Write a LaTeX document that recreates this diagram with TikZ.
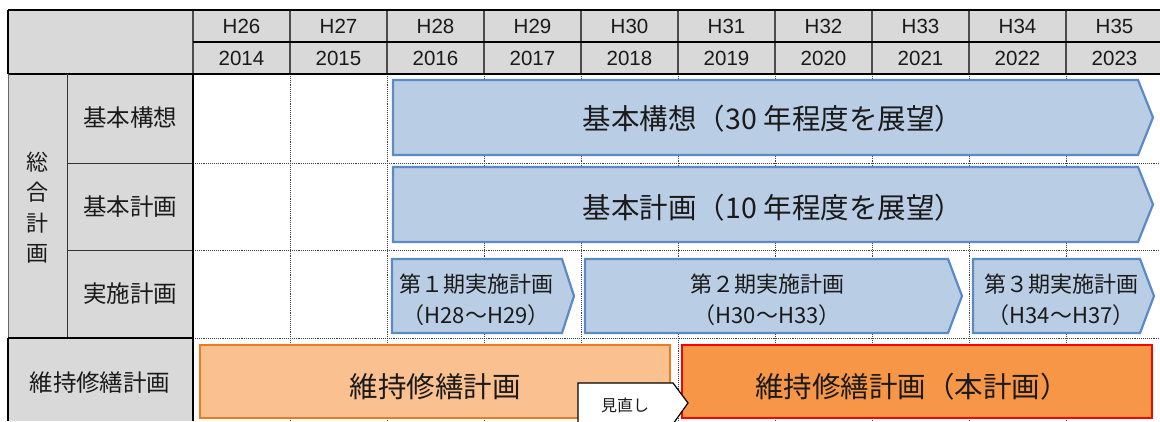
\documentclass[tikz,border=0pt]{standalone}
\usepackage{fontspec}
\setmainfont{Liberation Sans}
\newfontfamily\jp{Noto Sans CJK JP}
\definecolor{hdrgray}{HTML}{D9D9D9}
\definecolor{bluefill}{HTML}{B9CDE5}
\definecolor{blueline}{HTML}{5B8AC6}
\definecolor{lorfill}{HTML}{FAC090}
\definecolor{lorline}{HTML}{EE7A1E}
\definecolor{dorfill}{HTML}{F79646}
\definecolor{txt}{HTML}{1A1A1A}
\tikzset{
  hdr/.style={inner sep=0pt, text=txt, font=\fontsize{20.5}{24}\selectfont},
  lbl/.style={inner sep=0pt, text=txt, font=\jp\fontsize{23.5}{26}\selectfont},
  vlbl/.style={inner sep=0pt, text=txt, font=\jp\fontsize{22}{26}\selectfont},
  big/.style={inner sep=0pt, text=txt, font=\jp\fontsize{28.5}{32}\selectfont},
  mid/.style={inner sep=0pt, text=txt, font=\jp\fontsize{22}{26}\selectfont, align=center},
  small/.style={inner sep=0pt, text=txt, font=\jp\fontsize{16}{19}\selectfont},
  bluearrow/.style={fill=bluefill, draw=blueline, line width=2.2pt, line join=miter},
  grid/.style={densely dotted, draw=black!75, line width=0.9pt},
}
\begin{document}
\begin{tikzpicture}[x=1pt,y=-1pt]
\useasboundingbox (0,0) rectangle (1160,421);
% grey areas
\fill[hdrgray] (8,10) rectangle (1160,74);
\fill[hdrgray] (8,74) rectangle (193,421);
% dotted grid
\foreach \x in {290,387,484,581,678,775,872,969,1066}
  \draw[grid] (\x,74) -- (\x,421);
\foreach \y in {163,250,338}
  \draw[grid] (193,\y) -- (1160,\y);
% header lines
\foreach \x in {193,290,387,484,581,678,775,872,969,1066}
  \draw[draw=black!70, line width=1.3pt] (\x,10) -- (\x,74);
\draw[line width=2pt] (8,10) -- (1160,10);
\draw[line width=1.5pt] (193,42) -- (1160,42);
\draw[line width=2.5pt] (8,74) -- (1160,74);
\draw[line width=2pt] (8,10) -- (8,74);
% label lines
\draw[line width=1pt, draw=black!80] (67,74) -- (67,338);
\draw[line width=1pt, draw=black!80] (67,163) -- (193,163);
\draw[line width=1pt, draw=black!80] (67,250) -- (193,250);
\draw[line width=1pt, draw=black!60] (8,74) -- (8,338);
\draw[line width=2.2pt] (8,338) -- (193,338);
\draw[line width=2.2pt] (8,338) -- (8,421);
\draw[line width=1.8pt] (193,74) -- (193,421);
% header text
\foreach \h [count=\i from 0] in {26,...,35} {
  \pgfmathsetmacro\xc{241.5+97*\i}
  \node[hdr] (h\h) at (\xc,26.5) {H\h};
  \node[hdr] (y\h) at (\xc,58.5) {\the\numexpr 1988+\h\relax};
}
% row labels
\node[lbl] (r1) at (130,118) {基本構想};
\node[lbl] (r2) at (130,207) {基本計画};
\node[lbl] (r3) at (130,294) {実施計画};
\node[lbl] (r4) at (100,383) {維持修繕計画};
\foreach \c [count=\i from 0] in {総,合,計,画}
  \node[vlbl] (s\i) at (37.5,162+30.5*\i) {\c};
% blue arrows
\draw[bluearrow] (393,80) -- (1138,80) -- (1153,117.5) -- (1138,155) -- (393,155) -- cycle;
\node[big] (kk) at (773,119) {基本構想（30 年程度を展望）};
\draw[bluearrow] (393,167) -- (1138,167) -- (1153,204.5) -- (1138,242) -- (393,242) -- cycle;
\node[big] (kp) at (773,208) {基本計画（10 年程度を展望）};
\draw[bluearrow] (392,259) -- (562,259) -- (574,296) -- (562,333) -- (392,333) -- cycle;
\node[mid] (p1a) at (476,284) {第１期実施計画};
\node[mid] (p1b) at (476,315) {（H28～H29）};
\draw[bluearrow] (585,259) -- (948,259) -- (962,296) -- (948,333) -- (585,333) -- cycle;
\node[mid] (p2a) at (767,284) {第２期実施計画};
\node[mid] (p2b) at (767,315) {（H30～H33）};
\draw[bluearrow] (973,259) -- (1140,259) -- (1154,296) -- (1140,333) -- (973,333) -- cycle;
\node[mid] (p3a) at (1061,284) {第３期実施計画};
\node[mid] (p3b) at (1061,315) {（H34～H37）};
% orange boxes
\draw[fill=lorfill, draw=lorline, line width=2.2pt] (200,345) rectangle (670,418);
\node[big] (m1) at (435,387) {維持修繕計画};
\draw[fill=dorfill, draw=red, line width=2pt] (682,345) rectangle (1152,418);
\node[big] (m2) at (912,387) {維持修繕計画（本計画）};
% review callout
\draw[fill=white, draw=black, line width=1.2pt, line join=miter] (578,424) -- (578,383) -- (673,383) -- (688,403) -- (673,424);
\node[small] (rev) at (625,405) {見直し};
\end{tikzpicture}
\end{document}
